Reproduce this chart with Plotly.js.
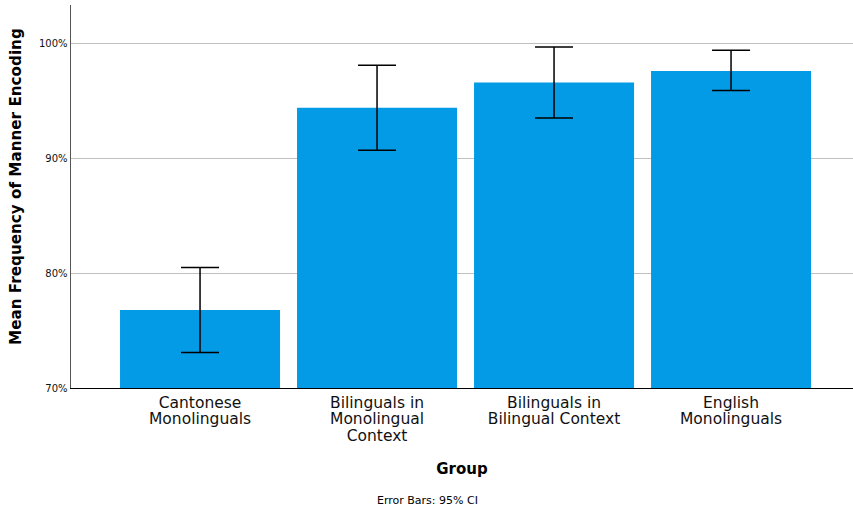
<!DOCTYPE html>
<html>
<head>
<meta charset="utf-8">
<script src="https://cdn.plot.ly/plotly-3.0.1.min.js"></script>
<style>html,body{margin:0;padding:0;background:#fff;}#chart{width:853px;height:510px;}</style>
</head>
<body>
<div id="chart"></div>
<script>
const categories = ["Cantonese<br>Monolinguals", "Bilinguals in<br>Monolingual<br>Context", "Bilinguals in<br>Bilingual Context", "English<br>Monolinguals"];
const means = [0.768, 0.944, 0.966, 0.976];
const ciUpper = [0.805, 0.981, 0.997, 0.994];
const ciLower = [0.731, 0.907, 0.935, 0.959];
const yTicks = [0.7, 0.8, 0.9, 1.0];

const xs = categories.map((c, i) => i);
const trace = {
  type: 'bar',
  x: xs,
  y: means,
  width: 0.904,
  marker: {color: '#039be5', line: {width: 0}},
  error_y: {
    type: 'data', symmetric: false,
    array: ciUpper.map((u, i) => u - means[i]),
    arrayminus: means.map((m, i) => m - ciLower[i]),
    color: '#000', thickness: 1.5, width: 19
  },
  hoverinfo: 'none'
};
const fontFam = '"DejaVu Sans", sans-serif';
const layout = {
  width: 853, height: 510,
  margin: {l: 71, r: 0, t: 5, b: 122},
  paper_bgcolor: '#fff', plot_bgcolor: '#fff',
  showlegend: false,
  font: {family: fontFam, color: '#000'},
  xaxis: {
    tickvals: xs, ticktext: categories,
    range: [-0.729, 3.689],
    showline: true, linecolor: '#000', linewidth: 1.2,
    ticks: '', showgrid: false, zeroline: false,
    tickfont: {size: 15.5, family: fontFam, color: '#111'},
    title: {text: '<b>Group</b>', font: {size: 15, family: fontFam, color: '#000'}, standoff: 12}
  },
  yaxis: {
    range: [0.7, 1.0335],
    tickvals: yTicks, tickformat: '.0%',
    showline: true, linecolor: '#555', linewidth: 1.5,
    ticks: '', showgrid: true, gridcolor: '#c0c0c0', gridwidth: 1,
    zeroline: false,
    tickfont: {size: 10, family: fontFam, color: '#111'}
  },
  annotations: [{
    text: 'Error Bars: 95% CI', xref: 'paper', yref: 'paper',
    x: 0.456, y: -0.295, xanchor: 'center', yanchor: 'middle',
    showarrow: false, font: {size: 11, family: fontFam, color: '#000'}
  }, {
    text: '<b>Mean Frequency of Manner Encoding</b>', xref: 'paper', yref: 'paper',
    x: -0.0703, y: 0.525, xanchor: 'center', yanchor: 'middle', textangle: -90,
    showarrow: false, font: {size: 15.2, family: fontFam, color: '#000'}
  }]
};
Plotly.newPlot('chart', [trace], layout, {displayModeBar: false, staticPlot: true}).then(function () {
  document.querySelectorAll('.xtick text tspan.line').forEach(function (t) {
    const dy = t.getAttribute('dy');
    if (dy) {
      const v = parseFloat(dy);
      if (v > 0) t.setAttribute('dy', (v * 1.07 / 1.3).toFixed(3) + 'em');
    }
  });
});
</script>
</body>
</html>
